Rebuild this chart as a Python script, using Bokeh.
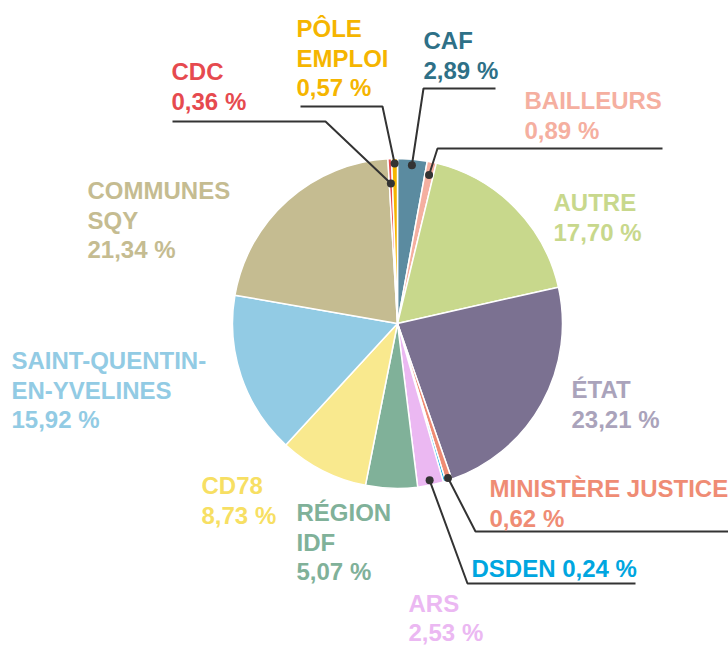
import math
from bokeh.plotting import figure
from bokeh.models import Range1d, ColumnDataSource
from bokeh.core.properties import value
from bokeh.embed import file_html
from bokeh.resources import INLINE

# ---- data (clockwise from 12 o'clock) ----
names = ["CAF", "BAILLEURS", "AUTRE", "ÉTAT", "MINISTÈRE JUSTICE", "DSDEN", "ARS",
         "RÉGION IDF", "CD78", "SAINT-QUENTIN-EN-YVELINES", "COMMUNES SQY", "CDC", "PÔLE EMPLOI"]
values = [2.89, 0.89, 17.70, 23.21, 0.62, 0.24, 2.53, 5.07, 8.73, 15.92, 21.34, 0.36, 0.57]
label_lines = [["CAF"], ["BAILLEURS"], ["AUTRE"], ["ÉTAT"], ["MINISTÈRE JUSTICE"], [],
               ["ARS"], ["RÉGION", "IDF"], ["CD78"], ["SAINT-QUENTIN-", "EN-YVELINES"],
               ["COMMUNES", "SQY"], ["CDC"], ["PÔLE", "EMPLOI"]]
inline_name = [False, False, False, False, False, True, False, False, False, False, False, False, False]
slice_colors = ["#5b8ba0", "#f5afa0", "#c8d88c", "#7b7191", "#ef8c74", "#00a6e0", "#ebb8f2",
                "#80b199", "#f9e98e", "#92cbe4", "#c5bc91", "#e64a4f", "#f5b500"]
text_colors = ["#2e7087", "#f5afa0", "#c8d88c", "#aaa3bb", "#ef8c74", "#00a6e0", "#ebb8f2",
               "#80b199", "#f7df63", "#92cbe4", "#c5bc91", "#e64a4f", "#f5b500"]

# ---- layout (image pixel coordinates) ----
W, H = 728, 645
CX, CY, R = 397, 323, 165
label_pos = [(423, 40), (524, 100), (553, 202), (571, 389), (489, 488), (471, 568), (408, 603),
             (296, 512), (201, 485), (11, 360), (87, 190), (171, 71), (296, 28)]
LINE_H = 29.5
# leaders: slice index, dot radius fraction, path after dot
leaders = [
    (0, 0.963, [(423, 88), (495, 88)]),
    (1, 0.92, [(437, 148), (662, 148)]),
    (4, 0.985, [(475, 531), (728, 531)]),
    (6, 0.97, [(467, 583), (635, 583)]),
    (11, 0.85, [(325, 121), (172, 121)]),
    (12, 0.97, [(382, 106), (300, 106)]),
]

def fy(img_y):
    return H - img_y

total = sum(values)
starts, ends, mids = [], [], []
cum = 0.0
for v in values:
    a0 = math.pi / 2 - cum / total * 2 * math.pi
    cum += v
    a1 = math.pi / 2 - cum / total * 2 * math.pi
    starts.append(a0)
    ends.append(a1)
    mids.append((a0 + a1) / 2)

p = figure(width=W, height=H, x_range=Range1d(0, W), y_range=Range1d(0, H),
           output_backend="svg", toolbar_location=None, min_border=0)
p.axis.visible = False
p.grid.visible = False
p.outline_line_color = None
p.background_fill_color = "white"

src = ColumnDataSource(dict(start=starts, end=ends, color=slice_colors))
p.wedge(x=CX, y=fy(CY), radius=R, start_angle="start", end_angle="end", direction="clock",
        fill_color="color", line_color="white", line_width=1.5, source=src)

# leader lines and dots
dx, dy = [], []
for idx, frac, path in leaders:
    a = mids[idx]
    px = CX + R * frac * math.cos(a)
    py = fy(CY) + R * frac * math.sin(a)
    xs = [px] + [q[0] for q in path]
    ys = [py] + [fy(q[1]) for q in path]
    p.line(xs, ys, line_color="#333333", line_width=2)
    dx.append(px)
    dy.append(py)
p.scatter(dx, dy, size=8, fill_color="#333333", line_color=None)

# labels
tx, ty, tt, tc = [], [], [], []
for i, v in enumerate(values):
    pct = f"{v:.2f}".replace(".", ",") + " %"
    x0, y0 = label_pos[i]
    if inline_name[i]:
        lines = [names[i] + " " + pct]
    else:
        lines = label_lines[i] + [pct]
    lh = 28.5 if i == 6 else LINE_H
    for k, ln in enumerate(lines):
        tx.append(x0)
        ty.append(fy(y0 + k * lh))
        tt.append(ln)
        tc.append(text_colors[i])
p.text(x=tx, y=ty, text=tt, text_color=tc, text_font=value("Liberation Sans"),
       text_font_style="bold", text_font_size="24px", text_baseline="alphabetic",
       text_align="left")

open("out.html", "w").write(file_html(p, INLINE))
